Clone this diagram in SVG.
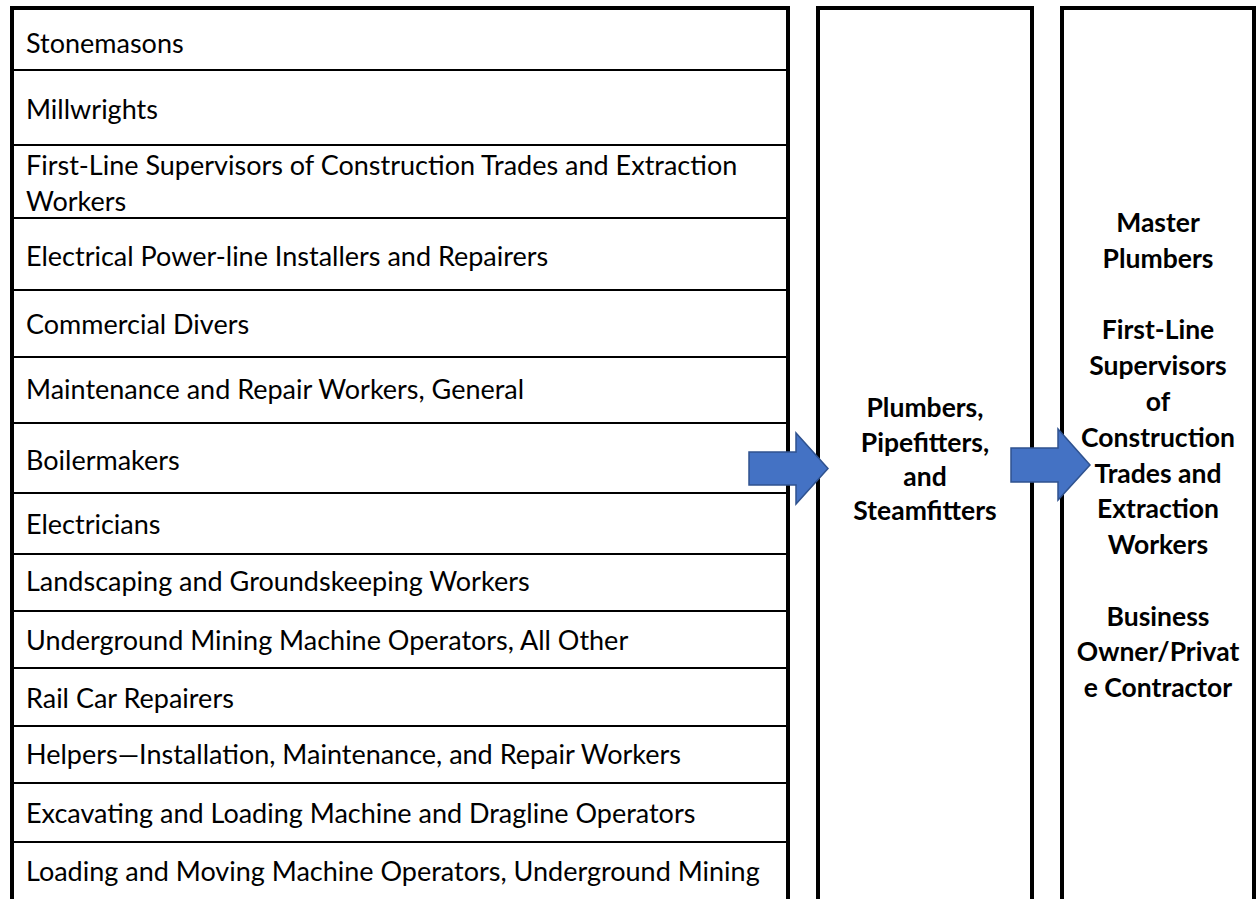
<svg xmlns="http://www.w3.org/2000/svg" width="1256" height="899" viewBox="0 0 1256 899">
<style>
.row{font-family:Lato,"Liberation Sans",sans-serif;font-size:27px;fill:#000}
.bold{font-family:Lato,"Liberation Sans",sans-serif;font-size:26.5px;font-weight:bold;fill:#000;text-anchor:middle}
.box{fill:#fff;stroke:#000;stroke-width:4}
.div{stroke:#000;stroke-width:2}
.arrow{fill:#4472C4;stroke:#2F528F;stroke-width:1.5;stroke-linejoin:miter}
</style>
<rect width="1256" height="899" fill="#fff"/>
<g id="left-column">
<rect class="box" x="12" y="8" width="776" height="900"/>
<line class="div" x1="12" y1="70" x2="788" y2="70"/>
<line class="div" x1="12" y1="145" x2="788" y2="145"/>
<line class="div" x1="12" y1="218" x2="788" y2="218"/>
<line class="div" x1="12" y1="290" x2="788" y2="290"/>
<line class="div" x1="12" y1="357" x2="788" y2="357"/>
<line class="div" x1="12" y1="423" x2="788" y2="423"/>
<line class="div" x1="12" y1="493" x2="788" y2="493"/>
<line class="div" x1="12" y1="554" x2="788" y2="554"/>
<line class="div" x1="12" y1="611" x2="788" y2="611"/>
<line class="div" x1="12" y1="668" x2="788" y2="668"/>
<line class="div" x1="12" y1="726" x2="788" y2="726"/>
<line class="div" x1="12" y1="783" x2="788" y2="783"/>
<line class="div" x1="12" y1="842" x2="788" y2="842"/>
<g id="row-stonemasons"><text class="row" x="26" y="53">Stonemasons</text></g>
<g id="row-millwrights"><text class="row" x="26" y="119">Millwrights</text></g>
<g id="row-first-line"><text class="row" x="26" y="175">First-Line Supervisors of Construction Trades and Extraction</text><text class="row" x="26" y="211">Workers</text></g>
<g id="row-powerline"><text class="row" x="26" y="266">Electrical Power-line Installers and Repairers</text></g>
<g id="row-divers"><text class="row" x="26" y="334">Commercial Divers</text></g>
<g id="row-maintenance"><text class="row" x="26" y="399">Maintenance and Repair Workers, General</text></g>
<g id="row-boilermakers"><text class="row" x="26" y="470">Boilermakers</text></g>
<g id="row-electricians"><text class="row" x="26" y="534">Electricians</text></g>
<g id="row-landscaping"><text class="row" x="26" y="591">Landscaping and Groundskeeping Workers</text></g>
<g id="row-underground"><text class="row" x="26" y="650">Underground Mining Machine Operators, All Other</text></g>
<g id="row-railcar"><text class="row" x="26" y="708">Rail Car Repairers</text></g>
<g id="row-helpers"><text class="row" x="26" y="764">Helpers—Installation, Maintenance, and Repair Workers</text></g>
<g id="row-excavating"><text class="row" x="26" y="823">Excavating and Loading Machine and Dragline Operators</text></g>
<g id="row-loading"><text class="row" x="26" y="881">Loading and Moving Machine Operators, Underground Mining</text></g>
</g>
<g id="middle-column">
<rect class="box" x="818" y="8" width="214" height="900"/>
<text class="bold" x="925" y="417">Plumbers,</text>
<text class="bold" x="925" y="452">Pipefitters,</text>
<text class="bold" x="925" y="486">and</text>
<text class="bold" x="925" y="520">Steamfitters</text>
</g>
<g id="right-column">
<rect class="box" x="1062" y="8" width="192" height="900"/>
<text class="bold" x="1158" y="232">Master</text>
<text class="bold" x="1158" y="268">Plumbers</text>
<text class="bold" x="1158" y="339">First-Line</text>
<text class="bold" x="1158" y="375">Supervisors</text>
<text class="bold" x="1158" y="411">of</text>
<text class="bold" x="1158" y="447">Construction</text>
<text class="bold" x="1158" y="483">Trades and</text>
<text class="bold" x="1158" y="518">Extraction</text>
<text class="bold" x="1158" y="554">Workers</text>
<text class="bold" x="1158" y="626">Business</text>
<text class="bold" x="1158" y="661">Owner/Privat</text>
<text class="bold" x="1158" y="697">e Contractor</text>
</g>
<g id="connectors">
<polygon class="arrow" points="749,452 796,452 796,433 828,468.5 796,504 796,485 749,485"/>
<polygon class="arrow" points="1011,448 1058,448 1058,429 1090,465 1058,500 1058,482 1011,482"/>
</g>
</svg>
